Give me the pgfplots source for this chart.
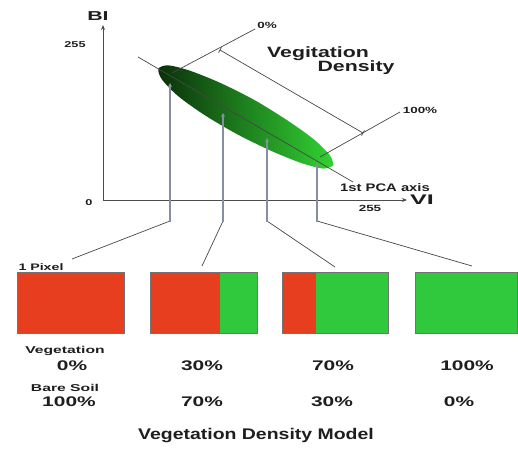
\documentclass[border=0pt]{standalone}
\usepackage{fontspec}
\setmainfont{Liberation Sans}
\usepackage{pgfplots}
\pgfplotsset{compat=1.18}
\usetikzlibrary{arrows.meta}
\definecolor{dkg}{RGB}{10,48,10}
\definecolor{ltg}{RGB}{50,210,50}
\definecolor{soil}{RGB}{232,62,32}
\definecolor{veg}{RGB}{48,200,60}
\definecolor{lgray}{RGB}{70,70,70}
\definecolor{bgray}{RGB}{135,142,160}
\definecolor{txt}{RGB}{30,30,30}
\tikzset{
  lab/.style={text=txt, inner sep=0pt, anchor=center, font=\bfseries\fontsize{#1}{#1}\selectfont, xscale=1.5},
}
\begin{document}
\begin{tikzpicture}
\begin{axis}[
  width=518bp, height=454bp, scale only axis,
  xmin=0, xmax=518, ymin=0, ymax=454, y dir=reverse,
  hide axis, clip=false,
]
% frame for bounding box
\addplot[draw=none] coordinates {(0,0) (518,454)};
% ellipse (vegetation cluster)
\addplot[draw=none, smooth, left color=dkg, right color=ltg] coordinates {
(333.5,165.3) (323.5,168.6) (301.8,163.2) (271.5,151.0) (237.3,134.3)
(204.5,115.0) (178.0,96.0) (161.9,79.4) (158.5,68.7) (168.5,65.4)
(190.2,70.8) (220.5,83.0) (254.7,100.2) (287.5,120.5) (314.0,139.5)
(330.1,155.6) (333.5,165.3)} -- cycle;
% axes
\addplot[black!70, line width=0.9pt, -{Stealth[length=5pt,width=4pt]}] coordinates {(103,200) (103,25)};
\addplot[black!70, line width=0.9pt, -{Stealth[length=5pt,width=4pt]}] coordinates {(103,200) (407,200)};
% 1st PCA axis
\addplot[lgray, line width=0.7pt] coordinates {(138,57) (353,182)};
% 0% and 100% guide lines
\addplot[lgray, line width=0.7pt] coordinates {(172,73) (255,29)};
\addplot[lgray, line width=0.7pt] coordinates {(320,157) (400,112)};
% density line with end ticks
\addplot[lgray, line width=0.7pt] coordinates {(220,50) (363,133)};
\addplot[lgray, line width=0.7pt] coordinates {(218.5,52.6) (221.5,47.4)};
\addplot[lgray, line width=0.7pt] coordinates {(361.5,135.6) (364.5,130.4)};
% pointer lines: diagonal in lgray, vertical in bluish gray
\addplot[lgray, line width=0.7pt] coordinates {(72,259) (170,221)};
\addplot[lgray, line width=0.7pt] coordinates {(202,266) (223,221)};
\addplot[lgray, line width=0.7pt] coordinates {(335,267) (267,221)};
\addplot[lgray, line width=0.7pt] coordinates {(472,266) (317,221)};
\addplot[bgray, line width=1.3pt, -{Stealth[length=4pt,width=4pt]}] coordinates {(170,222) (170,83)};
\addplot[bgray, line width=1.3pt, -{Stealth[length=4pt,width=4pt]}] coordinates {(223,222) (223,113)};
\addplot[bgray, line width=1.3pt, -{Stealth[length=4pt,width=4pt]}] coordinates {(267,222) (267,138)};
\addplot[bgray, line width=1.3pt, -{Stealth[length=4pt,width=4pt]}] coordinates {(317,222) (317,163)};
% pixel boxes: bare soil part (red)
\addplot[fill=soil, draw=none] coordinates {(17,272) (124,272) (124,333) (17,333)} -- cycle;
\addplot[fill=soil, draw=none] coordinates {(150,272) (220,272) (220,333) (150,333)} -- cycle;
\addplot[fill=soil, draw=none] coordinates {(282,272) (316,272) (316,333) (282,333)} -- cycle;
% vegetation part (green)
\addplot[fill=veg, draw=none] coordinates {(220,272) (257,272) (257,333) (220,333)} -- cycle;
\addplot[fill=veg, draw=none] coordinates {(316,272) (388,272) (388,333) (316,333)} -- cycle;
\addplot[fill=veg, draw=none] coordinates {(415,272) (517,272) (517,333) (415,333)} -- cycle;
% box outlines
\addplot[black!55, line width=0.5pt] coordinates {(17,272) (124,272) (124,333) (17,333)} -- cycle;
\addplot[black!55, line width=0.5pt] coordinates {(150,272) (257,272) (257,333) (150,333)} -- cycle;
\addplot[black!55, line width=0.5pt] coordinates {(282,272) (388,272) (388,333) (282,333)} -- cycle;
\addplot[black!55, line width=0.5pt] coordinates {(415,272) (517,272) (517,333) (415,333)} -- cycle;
% texts
\node[lab=13, xscale=1.1] at (axis cs:98,16) {BI};
\node[lab=14, xscale=1.2] at (axis cs:422,200) {VI};
\node[lab=8.5] at (axis cs:75,45) {255};
\node[lab=8.5] at (axis cs:89,203) {0};
\node[lab=9] at (axis cs:370,208) {255};
\node[lab=9] at (axis cs:267,25) {0\%};
\node[lab=9] at (axis cs:420,110) {100\%};
\node[lab=15, xscale=0.95] at (axis cs:318,54) {Vegitation};
\node[lab=15, xscale=0.95] at (axis cs:356,68) {Density};
\node[lab=11, xscale=0.9] at (axis cs:385,188) {1st PCA axis};
\node[lab=9.5] at (axis cs:41,267) {1 Pixel};
\node[lab=10, xscale=1.05] at (axis cs:65,351) {Vegetation};
\node[lab=10, xscale=1.05] at (axis cs:65,388) {Bare Soil};
\node[lab=14] at (axis cs:72,366) {0\%};
\node[lab=14] at (axis cs:202,366) {30\%};
\node[lab=14] at (axis cs:333,366) {70\%};
\node[lab=14] at (axis cs:467,366) {100\%};
\node[lab=14] at (axis cs:69,402) {100\%};
\node[lab=14] at (axis cs:202,402) {70\%};
\node[lab=14] at (axis cs:332,402) {30\%};
\node[lab=14] at (axis cs:459,402) {0\%};
\node[lab=15.5, xscale=0.84] at (axis cs:256,436) {Vegetation Density Model};
\end{axis}
\end{tikzpicture}
\end{document}
